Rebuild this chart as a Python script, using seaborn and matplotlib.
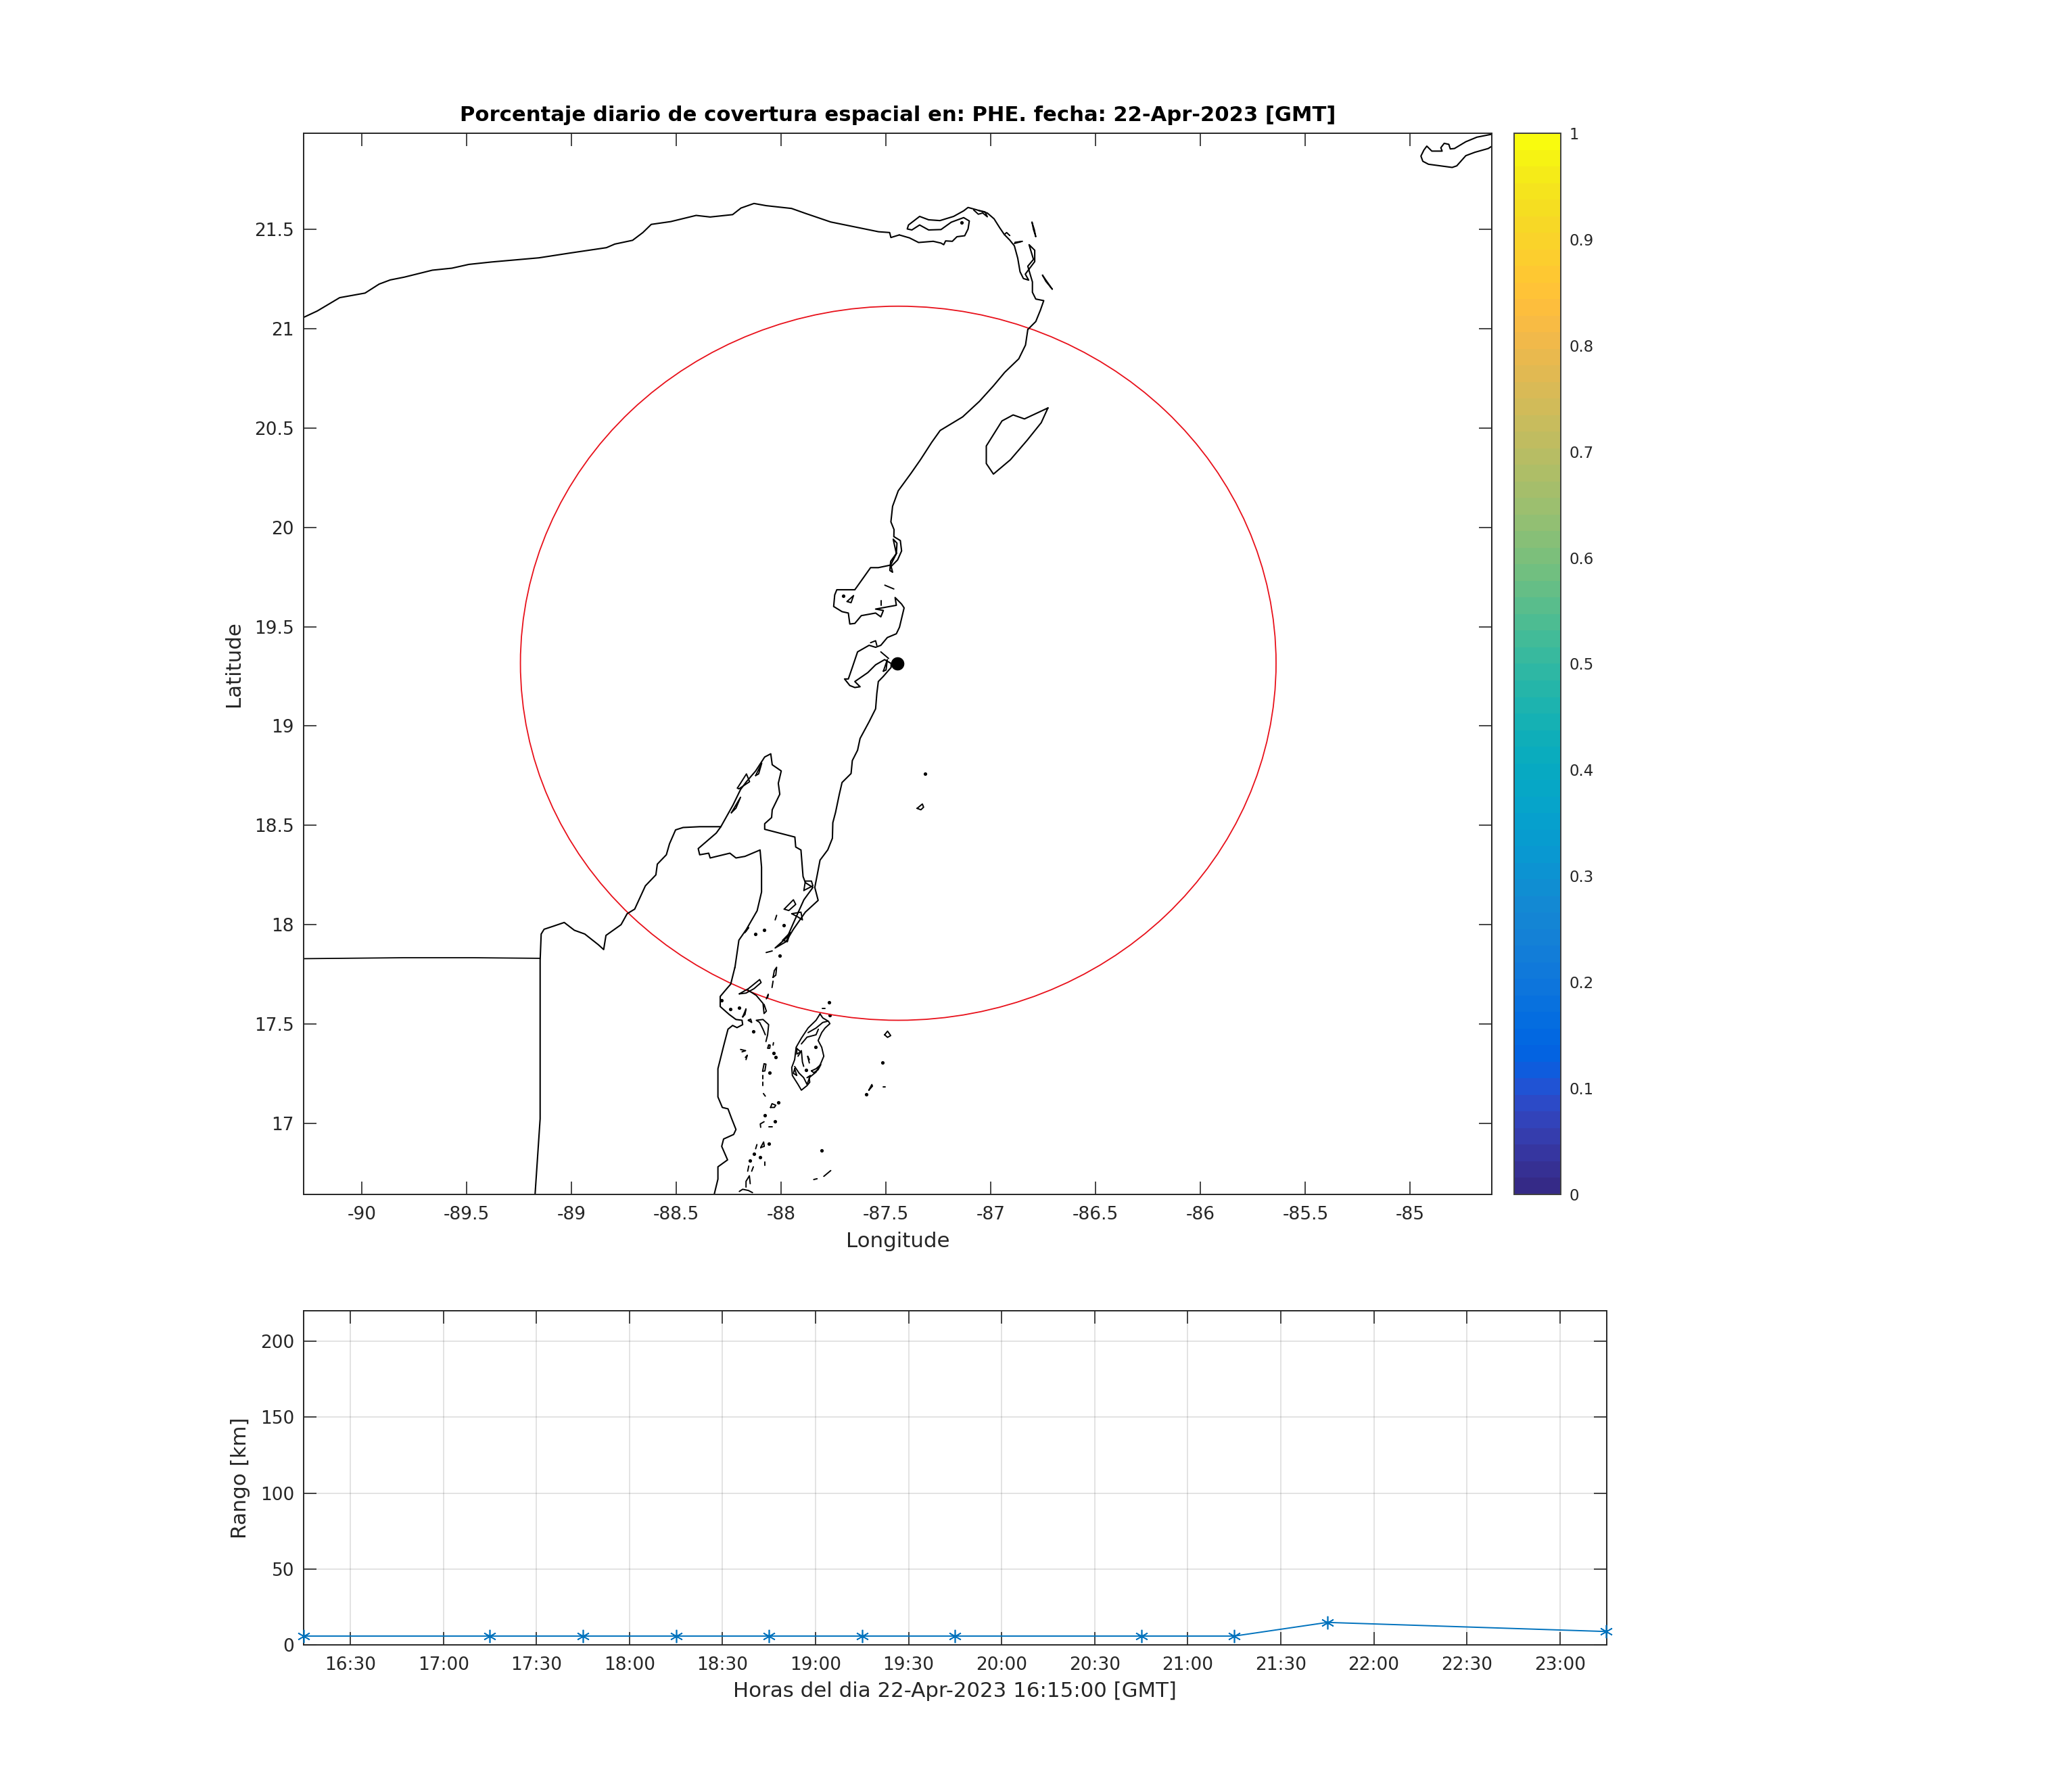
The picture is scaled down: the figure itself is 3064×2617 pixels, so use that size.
import matplotlib
matplotlib.use("Agg")
import numpy as np
import pandas as pd
import seaborn as sns
import matplotlib.pyplot as plt
import matplotlib.dates as mdates
from matplotlib.colors import ListedColormap, Normalize
from matplotlib.cm import ScalarMappable
from matplotlib.patches import Ellipse

# site and range ring, lon / lat degrees
site_lon, site_lat = -87.445, 19.316
ring_lon, ring_lat = -87.442, 19.316
ring_lon_radius, ring_lat_radius = 1.802, 1.798

# first reading of the coast, lat scale was a bit off (fixed in true_lat below)
coast_gulf = [(-90.280,21.058),(-90.213,21.091),(-90.106,21.158),(-89.985,21.181),(-89.918,21.226),(-89.865,21.247),
    (-89.798,21.261),(-89.664,21.296),(-89.571,21.306),(-89.490,21.325),(-89.383,21.337),(-89.156,21.358),(-89.008,21.382),
    (-88.834,21.409),(-88.794,21.427),(-88.709,21.446),(-88.660,21.485),(-88.620,21.526),(-88.527,21.540),(-88.406,21.571),
    (-88.339,21.563),(-88.232,21.575),(-88.192,21.608),(-88.130,21.631),(-88.072,21.620),(-87.951,21.606),(-87.884,21.581),
    (-87.764,21.538),(-87.536,21.489),(-87.483,21.485),(-87.477,21.460),(-87.437,21.473)]

# Holbox lagoon, Cabo Catoche, Cancun
coast_catoche = [(-87.437,21.473),(-87.388,21.458),(-87.345,21.435),(-87.275,21.441),(-87.238,21.432),(-87.225,21.424),(-87.216,21.443),
    (-87.184,21.441),(-87.162,21.464),(-87.125,21.469),(-87.109,21.503),(-87.103,21.543),(-87.130,21.560),(-87.189,21.537),
    (-87.238,21.500),(-87.297,21.498),(-87.340,21.523),(-87.377,21.498),(-87.399,21.503),(-87.393,21.523),(-87.340,21.566),
    (-87.297,21.549),(-87.243,21.545),(-87.178,21.566),(-87.130,21.594),(-87.109,21.611),(-87.071,21.600),(-87.017,21.583),
    (-86.985,21.554),(-86.958,21.509),(-86.936,21.475),(-86.910,21.447),(-86.888,21.418),(-86.872,21.356),(-86.861,21.288),
    (-86.845,21.254),(-86.820,21.246),(-86.836,21.276),(-86.824,21.293),(-86.791,21.339),(-86.791,21.396),(-86.818,21.424),
    (-86.797,21.350),(-86.824,21.316),(-86.813,21.276),(-86.802,21.237),(-86.802,21.185),(-86.786,21.151),(-86.748,21.143),
    (-86.764,21.095),(-86.786,21.038),(-86.824,20.998)]

coast_east = [(-86.824,20.998),(-86.835,20.920),(-86.867,20.851),
    (-86.934,20.783),(-86.988,20.715),(-87.055,20.637),(-87.135,20.559),(-87.242,20.491),(-87.282,20.432),(-87.336,20.344),
    (-87.381,20.276),(-87.442,20.188),(-87.469,20.110),(-87.477,20.032),(-87.462,19.993),(-87.463,19.958),(-87.432,19.938),
    (-87.426,19.886),(-87.445,19.841),(-87.476,19.808),(-87.469,19.779),(-87.482,19.788),(-87.478,19.834),(-87.451,19.873),
    (-87.448,19.925),(-87.466,19.945),(-87.451,19.873),(-87.478,19.815),(-87.537,19.802),(-87.574,19.802),(-87.605,19.756),
    (-87.649,19.691),(-87.735,19.691),(-87.745,19.665),(-87.750,19.607),(-87.710,19.581),(-87.680,19.574),(-87.673,19.519),
    (-87.649,19.522),(-87.618,19.561),(-87.550,19.574),(-87.525,19.555),(-87.513,19.587),(-87.550,19.594),(-87.451,19.613),
    (-87.457,19.652),(-87.426,19.619),(-87.414,19.600),(-87.436,19.503),(-87.451,19.470),(-87.494,19.451),(-87.525,19.412),
    (-87.550,19.402),(-87.581,19.412),(-87.636,19.379),(-87.661,19.301),(-87.680,19.243),(-87.698,19.243),(-87.673,19.210),
    (-87.649,19.200),(-87.624,19.204),(-87.649,19.230),(-87.587,19.275),(-87.550,19.314),(-87.507,19.340),(-87.476,19.321),
    (-87.476,19.301),(-87.513,19.256),(-87.537,19.230),(-87.544,19.171),(-87.550,19.093),(-87.581,19.028),(-87.624,18.944),
    (-87.636,18.885),(-87.661,18.833),(-87.667,18.768),(-87.710,18.723),(-87.723,18.664),(-87.741,18.573),(-87.754,18.521),
    (-87.756,18.443),(-87.778,18.385),(-87.815,18.333),(-87.828,18.261),(-87.840,18.196),(-87.824,18.131),(-87.885,18.072),
    (-87.942,17.986),(-87.978,17.923),(-88.029,17.892),(-87.971,17.947),(-87.942,18.017),(-87.892,18.134),(-87.849,18.196),
    (-87.885,18.220),(-87.896,18.251),(-87.906,18.384),(-87.931,18.399),(-87.935,18.449),(-88.079,18.488),(-88.079,18.516),
    (-88.046,18.547),(-88.043,18.586),(-88.007,18.664),(-88.014,18.719),(-88.000,18.781),(-88.043,18.812),(-88.050,18.867),
    (-88.079,18.851),(-88.122,18.781),(-88.166,18.727),(-88.194,18.688),(-88.230,18.610),(-88.288,18.501)]

# Mexico / Belize shore west of the bay, then the straight border south
coast_west = [(-88.288,18.501),(-88.310,18.501),(-88.389,18.501),(-88.468,18.497),(-88.504,18.485),(-88.533,18.415),(-88.548,18.360),
    (-88.591,18.313),(-88.598,18.259),(-88.648,18.204),(-88.699,18.087),(-88.735,18.064),(-88.764,18.009),(-88.836,17.955),
    (-88.847,17.884),(-88.872,17.908),(-88.937,17.962),(-88.987,17.981),(-89.035,18.020),(-89.088,18.001),(-89.131,17.986),
    (-89.145,17.962),(-89.150,17.830),(-89.150,17.424),(-89.150,17.034),(-89.174,16.657),(-89.180,16.600)]
border_west = [(-90.300,17.828),(-89.800,17.833),(-89.470,17.833),(-89.150,17.830)]

# Chetumal bay
coast_bay = [(-88.288,18.501),(-88.310,18.469),(-88.396,18.391),(-88.389,18.360),(-88.346,18.368),(-88.339,18.344),(-88.245,18.368),
    (-88.216,18.344),(-88.173,18.352),(-88.101,18.384),(-88.094,18.298),(-88.094,18.173),(-88.115,18.079),(-88.166,17.986),
    (-88.202,17.931),(-88.221,17.793)]

cozumel = [(-86.728,20.604),(-86.760,20.530),(-86.827,20.442),(-86.907,20.344),(-86.988,20.272),(-87.022,20.325),(-87.022,20.413),
    (-86.947,20.539),(-86.894,20.569),(-86.840,20.549),(-86.728,20.604)]
cuba_tip = [(-84.610,21.979),(-84.682,21.964),(-84.735,21.941),(-84.789,21.907),(-84.809,21.905),(-84.816,21.928),(-84.838,21.933),
    (-84.854,21.911),(-84.848,21.894),(-84.881,21.894),(-84.897,21.894),(-84.921,21.919),(-84.935,21.899),(-84.949,21.869),
    (-84.940,21.843),(-84.913,21.828),(-84.800,21.812),(-84.778,21.820),(-84.735,21.871),(-84.692,21.888),(-84.628,21.907),(-84.610,21.919)]

north_small = [
    [(-86.804,21.537),(-86.793,21.500),(-86.786,21.464),(-86.797,21.500),(-86.804,21.537)],
    [(-86.754,21.271),(-86.707,21.200),(-86.738,21.240),(-86.754,21.271)],
    [(-86.888,21.430),(-86.850,21.441),(-86.885,21.436)],
    [(-86.936,21.475),(-86.925,21.485),(-86.910,21.470)],
    [(-87.082,21.598),(-87.060,21.577),(-87.039,21.583),(-87.017,21.564),(-87.028,21.589),(-87.060,21.596)],
    [(-87.506,19.714),(-87.463,19.695)],
    [(-87.522,19.635),(-87.522,19.613)],
    [(-87.686,19.632),(-87.655,19.662),(-87.667,19.626),(-87.686,19.632)],
    [(-87.525,19.379),(-87.488,19.346)],
    [(-87.513,19.282),(-87.494,19.340),(-87.500,19.288),(-87.513,19.282)],
    [(-87.574,19.425),(-87.550,19.435),(-87.544,19.411)],
    [(-87.352,18.593),(-87.327,18.615),(-87.321,18.599),(-87.334,18.586),(-87.352,18.593)],
    [(-88.238,18.571),(-88.194,18.649),(-88.216,18.594),(-88.238,18.571)],
    [(-88.209,18.695),(-88.166,18.766),(-88.151,18.727),(-88.202,18.691),(-88.209,18.695)],
    [(-88.122,18.758),(-88.093,18.820),(-88.108,18.766),(-88.122,18.758)],
    [(-87.892,18.181),(-87.885,18.228),(-87.856,18.228),(-87.849,18.204),(-87.892,18.181)],
    [(-87.986,18.087),(-87.942,18.134),(-87.931,18.111),(-87.964,18.080),(-87.986,18.087)],
    [(-87.950,18.064),(-87.906,18.072),(-87.899,18.033),(-87.921,18.048),(-87.950,18.064)],
    [(-87.993,17.931),(-87.957,17.970),(-87.971,17.923),(-87.993,17.931)],
    [(-88.029,18.033),(-88.022,18.056)],
    [(-88.072,17.869),(-88.043,17.877)],
    [(-88.173,17.970),(-88.156,17.994),(-88.173,17.970)],
    [(-87.507,17.456),(-87.493,17.474),(-87.478,17.452),(-87.493,17.443),(-87.507,17.456)],
    [(-87.582,17.178),(-87.568,17.206),(-87.565,17.198),(-87.582,17.178)],
    [(-87.513,17.195),(-87.503,17.195)],
    [(-87.805,17.588),(-87.791,17.588)],
]

# second, closer reading of the south, lat already right
coast_south = [(-88.221,17.785),(-88.241,17.700),(-88.264,17.672),(-88.291,17.638),(-88.291,17.587),(-88.248,17.547),(-88.216,17.522),
    (-88.187,17.518),(-88.184,17.496),(-88.211,17.481),(-88.232,17.492),(-88.254,17.473),(-88.275,17.388),(-88.302,17.274),
    (-88.302,17.132),(-88.281,17.079),(-88.254,17.072),(-88.237,17.024),(-88.216,16.968),(-88.227,16.943),(-88.275,16.920),
    (-88.284,16.883),(-88.256,16.815),(-88.302,16.780),(-88.302,16.718),(-88.320,16.640),(-88.330,16.600)]
turneffe = [(-87.815,17.550),(-87.802,17.530),(-87.775,17.513),(-87.768,17.501),(-87.791,17.479),(-87.807,17.456),(-87.824,17.416),
    (-87.807,17.382),(-87.797,17.337),(-87.813,17.297),(-87.834,17.257),(-87.867,17.229),(-87.864,17.206),(-87.877,17.189),
    (-87.904,17.166),(-87.920,17.195),(-87.947,17.240),(-87.950,17.280),(-87.936,17.320),(-87.929,17.382),(-87.904,17.428),
    (-87.872,17.479),(-87.834,17.518),(-87.815,17.550)]
south_small = [
    [(-87.872,17.456),(-87.834,17.479),(-87.802,17.507),(-87.780,17.513)],
    [(-87.904,17.399),(-87.877,17.433),(-87.834,17.445),(-87.823,17.473)],
    [(-87.920,17.337),(-87.904,17.365),(-87.899,17.308),(-87.893,17.286)],
    [(-87.936,17.285),(-87.915,17.252),(-87.893,17.229),(-87.877,17.195),(-87.861,17.240),(-87.877,17.229)],
    [(-87.866,17.303),(-87.874,17.337),(-87.866,17.320)],
    [(-87.856,17.263),(-87.834,17.274),(-87.811,17.295),(-87.824,17.269),(-87.845,17.254),(-87.856,17.263)],
    [(-87.936,17.274),(-87.926,17.240),(-87.942,17.251),(-87.936,17.274)],
    [(-87.926,17.376),(-87.907,17.359),(-87.926,17.348),(-87.926,17.376)],
    [(-88.082,17.299),(-88.073,17.297),(-88.078,17.263),(-88.089,17.261),(-88.082,17.299)],
    [(-88.087,17.240),(-88.087,17.223)],
    [(-88.087,17.206),(-88.087,17.190)],
    [(-88.085,17.149),(-88.076,17.136)],
    [(-88.051,17.079),(-88.044,17.098),(-88.026,17.090),(-88.033,17.079),(-88.051,17.079)],
    [(-88.098,16.979),(-88.100,16.996),(-88.082,17.007)],
    [(-88.060,16.981),(-88.042,16.981)],
    [(-88.122,16.871),(-88.116,16.892)],
    [(-88.098,16.877),(-88.084,16.905),(-88.081,16.883),(-88.098,16.877)],
    [(-88.078,16.803),(-88.078,16.786)],
    [(-88.160,16.758),(-88.155,16.784)],
    [(-88.141,16.758),(-88.133,16.780)],
    [(-88.168,16.678),(-88.168,16.707),(-88.152,16.735),(-88.148,16.695)],
    [(-88.200,16.656),(-88.184,16.667),(-88.157,16.661),(-88.137,16.650)],
    [(-88.194,17.371),(-88.170,17.365),(-88.187,17.359)],
    [(-88.168,17.320),(-88.162,17.342),(-88.171,17.331)],
    [(-88.060,17.393),(-88.053,17.393),(-88.055,17.377),(-88.065,17.377),(-88.060,17.393)],
    [(-88.039,17.393),(-88.037,17.405)],
    [(-88.073,17.411),(-88.065,17.445),(-88.060,17.496),(-88.087,17.522),(-88.119,17.518),(-88.103,17.507),(-88.087,17.473),(-88.076,17.445)],
    [(-88.157,17.518),(-88.146,17.524),(-88.141,17.507),(-88.157,17.518)],
    [(-88.184,17.535),(-88.168,17.575),(-88.173,17.547),(-88.184,17.535)],
    [(-88.200,17.651),(-88.157,17.677),(-88.103,17.723),(-88.096,17.708),(-88.130,17.677),(-88.168,17.655),(-88.200,17.651)],
    [(-88.162,17.672),(-88.119,17.643),(-88.087,17.603),(-88.082,17.552),(-88.071,17.564),(-88.082,17.598)],
    [(-88.071,17.626),(-88.062,17.649),(-88.065,17.632)],
    [(-88.044,17.683),(-88.039,17.715)],
    [(-88.039,17.734),(-88.026,17.745),(-88.022,17.785),(-88.033,17.768),(-88.039,17.734)],
    [(-87.845,16.716),(-87.829,16.720)],
    [(-87.797,16.732),(-87.764,16.761)],
]
dot_lon = [-87.315,-87.517,-87.596,-88.122,-88.083,-88.007,-87.988,-87.704,-87.139,-87.836,-87.883,-88.029,-88.102,-88.130,-88.060,-88.078,
    -88.015,-88.055,-88.026,-88.035,-88.132,-87.807,-87.772,-87.768,-88.149,-88.243,-88.200,-88.285]
dot_lat = [18.759,17.304,17.144,17.952,17.973,17.843,17.995,19.655,21.537,17.385,17.269,17.010,16.827,16.845,16.898,17.038,
    17.104,17.254,17.331,17.354,17.462,16.863,17.609,17.543,16.811,17.573,17.580,17.620]

# lower panel
range_times = ["16:15","17:15","17:45","18:15","18:45","19:15","19:45","20:45","21:15","21:45","23:15"]
range_km = [5.8,5.8,5.8,5.8,5.8,5.8,5.8,5.8,5.8,14.8,8.8]

lon_ticks = [-90,-89.5,-89,-88.5,-88,-87.5,-87,-86.5,-86,-85.5,-85]
lat_ticks = [17,17.5,18,18.5,19,19.5,20,20.5,21,21.5]
cbar_ticks = [0,0.1,0.2,0.3,0.4,0.5,0.6,0.7,0.8,0.9,1]
km_ticks = [0,50,100,150,200]

parula = [[0.2081,0.1663,0.5292],[0.2116,0.1897,0.5776],[0.2123,0.2137,0.6269],[0.2081,0.2386,0.6770],[0.1959,0.2645,0.7279],
    [0.1707,0.2919,0.7792],[0.1253,0.3242,0.8303],[0.0591,0.3598,0.8683],[0.0117,0.3875,0.8820],[0.0060,0.4086,0.8828],
    [0.0165,0.4266,0.8786],[0.0329,0.4430,0.8720],[0.0498,0.4586,0.8641],[0.0629,0.4737,0.8554],[0.0723,0.4887,0.8467],
    [0.0779,0.5040,0.8384],[0.0793,0.5200,0.8312],[0.0749,0.5375,0.8263],[0.0641,0.5570,0.8240],[0.0488,0.5772,0.8228],
    [0.0343,0.5966,0.8199],[0.0265,0.6137,0.8135],[0.0239,0.6287,0.8038],[0.0231,0.6418,0.7913],[0.0228,0.6535,0.7768],
    [0.0267,0.6642,0.7607],[0.0384,0.6743,0.7436],[0.0590,0.6838,0.7254],[0.0843,0.6928,0.7062],[0.1133,0.7015,0.6859],
    [0.1453,0.7098,0.6646],[0.1801,0.7177,0.6424],[0.2178,0.7250,0.6193],[0.2586,0.7317,0.5954],[0.3022,0.7376,0.5712],
    [0.3482,0.7424,0.5473],[0.3953,0.7459,0.5244],[0.4420,0.7481,0.5033],[0.4871,0.7491,0.4840],[0.5300,0.7491,0.4661],
    [0.5709,0.7485,0.4494],[0.6099,0.7473,0.4337],[0.6473,0.7456,0.4188],[0.6834,0.7435,0.4044],[0.7184,0.7411,0.3905],
    [0.7525,0.7384,0.3768],[0.7858,0.7356,0.3633],[0.8185,0.7327,0.3498],[0.8507,0.7299,0.3360],[0.8824,0.7274,0.3217],
    [0.9139,0.7258,0.3063],[0.9450,0.7261,0.2886],[0.9739,0.7314,0.2666],[0.9938,0.7455,0.2403],[0.9990,0.7653,0.2164],
    [0.9955,0.7861,0.1967],[0.9880,0.8066,0.1794],[0.9789,0.8271,0.1633],[0.9697,0.8481,0.1475],[0.9626,0.8705,0.1309],
    [0.9589,0.8949,0.1132],[0.9598,0.9218,0.0948],[0.9661,0.9514,0.0755],[0.9763,0.9831,0.0538]]

sns.set_theme(style="ticks")
plt.rcParams["axes.unicode_minus"] = False
plt.rcParams["font.family"] = ["DejaVu Sans"]
plt.rcParams["text.color"] = "#262626"
plt.rcParams["axes.labelcolor"] = "#262626"
plt.rcParams["axes.edgecolor"] = "#262626"
plt.rcParams["axes.linewidth"] = 0.7

W, H = 3064, 2617
fig = plt.figure(figsize=(W / 200, H / 200), dpi=200)

def rect(l, t, r, b):
    return [l / W, 1 - b / H, (r - l) / W, (b - t) / H]

ax = fig.add_axes(rect(449, 197.3, 2205.7, 1765.7))
cax = fig.add_axes(rect(2239.3, 197.3, 2307.7, 1765.7))
ax2 = fig.add_axes(rect(449.3, 1938.3, 2375.5, 2432))

def true_lat(lat):
    return 21.5 - (21.5 - lat) * 294.4 / 293.6

def outline(pts, lw=0.75, fix=False):
    pts = np.array(pts)
    lat = true_lat(pts[:, 1]) if fix else pts[:, 1]
    sns.lineplot(x=pts[:, 0], y=lat, sort=False, estimator=None, color="black", linewidth=lw, ax=ax)

for part in [coast_gulf, coast_catoche, coast_east, coast_west, coast_bay, cozumel, cuba_tip]:
    outline(part, fix=True)
outline(border_west, lw=0.65)
for part in north_small:
    outline(part, lw=0.7, fix=True)
outline(coast_south)
outline(turneffe, lw=0.7)
for part in south_small:
    outline(part, lw=0.7)
sns.scatterplot(x=dot_lon, y=dot_lat, color="black", s=3.5, linewidth=0, ax=ax)

ax.add_patch(Ellipse((ring_lon, ring_lat), 2 * ring_lon_radius, 2 * ring_lat_radius, fill=False, edgecolor="#e8101a", linewidth=0.65))
sns.scatterplot(x=[site_lon], y=[site_lat], color="black", s=50, linewidth=0, ax=ax, zorder=5)

ax.set_xlim(-90.278, -84.612)
ax.set_ylim(16.642, 21.984)
ax.set_xticks(lon_ticks)
ax.set_yticks(lat_ticks)
ax.set_xticklabels([f"{v:g}" for v in lon_ticks])
ax.set_yticklabels([f"{v:g}" for v in lat_ticks])
ax.tick_params(direction="in", length=6.7, width=0.6, top=True, right=True, labelsize=9.5, color="#262626", labelcolor="#262626", pad=5)
ax.tick_params(axis="x", pad=6.2)
ax.set_xlabel("Longitude", fontsize=11.1, labelpad=4.5)
ax.set_ylabel("Latitude", fontsize=11.1, labelpad=6)
ax.set_title("Porcentaje diario de covertura espacial en: PHE. fecha: 22-Apr-2023 [GMT]", fontsize=11.05, fontweight="bold", color="black", pad=6.5)

sm = ScalarMappable(norm=Normalize(0, 1), cmap=ListedColormap(parula))
cb = fig.colorbar(sm, cax=cax, ticks=cbar_ticks)
cb.ax.set_yticklabels([f"{v:g}" for v in cbar_ticks])
cb.ax.tick_params(direction="in", length=6, width=0.6, labelsize=8.2, color="#262626", labelcolor="#262626", pad=4.5)
cb.outline.set_edgecolor("#404040")
cb.outline.set_linewidth(0.7)

# lower panel, range against hour of the day
times = pd.to_datetime(["2023-04-22 " + t for t in range_times])
sns.lineplot(x=times, y=range_km, sort=False, estimator=None, color="#0072BD", linewidth=0.7, marker=(6, 2, 0),
             markersize=7, markeredgecolor="#0072BD", markeredgewidth=0.6, clip_on=False, ax=ax2, zorder=4)
ax2.set_xlim(pd.Timestamp("2023-04-22 16:15"), pd.Timestamp("2023-04-22 23:15"))
ax2.set_ylim(0, 220)
ax2.set_yticks(km_ticks)
ax2.xaxis.set_major_locator(mdates.MinuteLocator(byminute=[0, 30]))
ax2.xaxis.set_major_formatter(mdates.DateFormatter("%H:%M"))
ax2.grid(True, color="#262626", alpha=0.15, linewidth=0.6)
ax2.set_axisbelow(True)
ax2.tick_params(direction="in", length=7, width=0.6, top=True, right=True, labelsize=9.5, color="#262626", labelcolor="#262626", pad=5)
ax2.tick_params(axis="x", pad=6.2)
ax2.set_xlabel("Horas del dia 22-Apr-2023 16:15:00 [GMT]", fontsize=11.1, labelpad=4)
ax2.set_ylabel("Rango [km]", fontsize=11.1, labelpad=5.5)

fig.savefig("out.png", dpi=200, facecolor="white")
